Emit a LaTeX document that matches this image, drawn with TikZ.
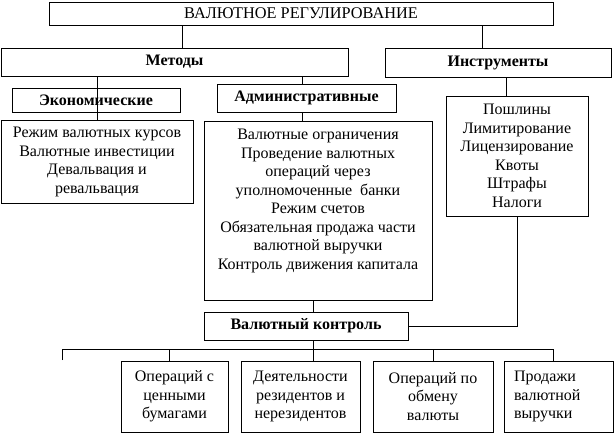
\documentclass[tikz,border=0pt]{standalone}
\usepackage{fontspec}
\setmainfont{Liberation Serif}
\usetikzlibrary{calc}
\tikzset{
  box/.style={draw,line width=1pt,align=center,inner sep=0pt,
    font=\fontsize{16}{18.5}\selectfont},
  head/.style={box,font=\fontsize{16}{18.5}\selectfont\bfseries},
  link/.style={line width=1pt}
}

\begin{document}
\begin{tikzpicture}[x=1pt,y=-1pt]
\useasboundingbox (0,0) rectangle (614,434);

% upper levels
\node[box,minimum width=504,minimum height=23,
  font=\fontsize{16.3}{19}\selectfont] (reg) at (301,13.5) {ВАЛЮТНОЕ РЕГУЛИРОВАНИЕ};
\node[head,minimum width=347,minimum height=28] (met) at (174.5,62) {Методы};
\node[head,minimum width=226,minimum height=29] (ins) at (498,62.5) {Инструменты};

\node[head,minimum width=168,minimum height=24] (eco) at (96,100) {Экономические};
\node[head,minimum width=179,minimum height=28] (adm) at (306.5,98) {Административные};

\node[box,minimum width=192,minimum height=83] (ecol) at (97,162)
  {Режим валютных курсов\\Валютные инвестиции\\Девальвация и\\ревальвация};
\node[box,minimum width=228,minimum height=179] (adml) at (318,210.5)
  {Валютные ограничения\\Проведение валютных\\операций через\\
   уполномоченные\ \ банки\\Режим счетов\\Обязательная продажа части\\
   валютной выручки\\Контроль движения капитала\\[4pt]\mbox{}};
\node[box,minimum width=142,minimum height=120] (insl) at (517,156)
  {Пошлины\\Лимитирование\\Лицензирование\\Квоты\\Штрафы\\Налоги};

\node[head,minimum width=204,minimum height=28] (ctl) at (306,326) {Валютный контроль};

% objects of control
\node[box,minimum width=107,minimum height=71] (b1) at (174.5,396.5)
  {Операций с\\ценными\\бумагами};
\node[box,minimum width=119,minimum height=71] (b2) at (300.5,396.5)
  {Деятельности\\резидентов и\\нерезидентов};
\node[box,minimum width=120,minimum height=71] (b3) at (433,396.5)
  {Операций по\\обмену\\валюты};
\node[box,minimum width=109,minimum height=71,text width=89,align=left] (b4) at (558.5,396.5)
  {Продажи\\валютной\\выручки};

\foreach \x/\a/\b in {182/reg/met,482/reg/ins,97/met/ecol,302/met/adm,
                      302/adm/adml,506/ins/insl,313/adml/ctl}
  \draw[link] (\a.south -| \x,0) -- (\b.north -| \x,0);

\draw[link] (insl.south -| 517,0) |- (ctl.east);

\coordinate (busL) at (62,349);
\coordinate (busR) at (553,349);
\coordinate (stub) at (62,360);
\draw[link] (stub) -- (busL) -- (busR);
\draw[link] (ctl.south -| 313,0) -- (busL -| 313,0);
\foreach \x/\b in {169/b1,313/b2,433/b3,553/b4}
  \draw[link] (busL -| \x,0) -- (\b.north -| \x,0);

\end{tikzpicture}
\end{document}
